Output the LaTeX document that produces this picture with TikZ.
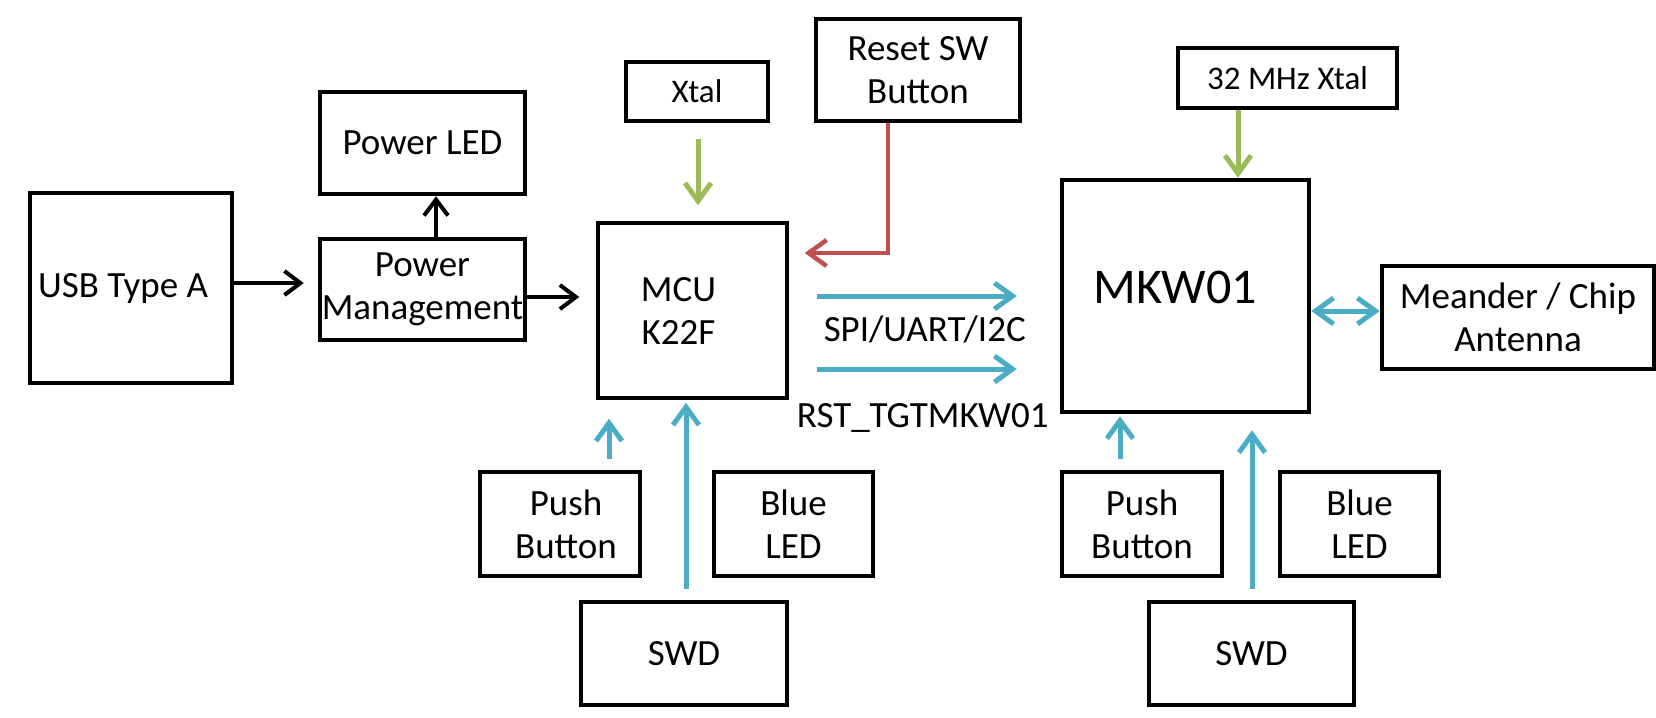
\documentclass[tikz,border=0pt]{standalone}
\usepackage{fontspec}
\setmainfont{Carlito}
\usetikzlibrary{arrows.meta,calc}
\definecolor{cblue}{HTML}{4BACC6}
\definecolor{cgreen}{HTML}{9BBB59}
\definecolor{cred}{HTML}{C0504D}
\newcommand\myfont{\fontsize{18.5}{21.5}\selectfont}
\newcommand\mysmall{\fontsize{16.5}{19}\selectfont}
\newcommand\mybig{\fontsize{25}{29}\selectfont}
\begin{document}
\begin{tikzpicture}[x=0.5pt,y=-0.5pt,
  box/.style={draw, line width=2.25pt, rectangle, inner sep=0pt, align=center, font=\myfont},
  blk/.style={line width=2pt, -{Straight Barb[length=8pt,width=12pt]}},
  blu/.style={draw=cblue, line width=2.5pt, -{Straight Barb[length=9pt,width=13pt]}},
  grn/.style={draw=cgreen, line width=2.5pt, -{Straight Barb[length=9pt,width=13pt]}},
  rd/.style={draw=cred, line width=2.25pt, -{Straight Barb[length=9pt,width=13pt]}},
  lbl/.style={font=\myfont, inner sep=0pt}]
\useasboundingbox (0,0) rectangle (1656,718);

\node[box, minimum width=101pt, minimum height=95pt] (usb) at (131,288) {\hspace*{-8pt}USB Type A};
\node[box, minimum width=102.5pt, minimum height=51pt] (pled) at (422.5,143) {Power LED};
\node[box, minimum width=102.5pt, minimum height=50.5pt] (pm) at (422.5,289.5) {Power\\Management};
\node[box, minimum width=71pt, minimum height=29.5pt, font=\mysmall] (xtal) at (697,91.5) {Xtal};
\node[box, minimum width=102pt, minimum height=51pt] (reset) at (918,70) {Reset SW\\Button};
\node[box, line width=1.75pt, minimum width=94.5pt, minimum height=87.5pt] (mcu) at (692.5,310.5) {\hspace*{-14pt}MCU\\\hspace*{-14pt}K22F};
\node[box, minimum width=123.5pt, minimum height=116pt, font=\mybig] (mkw) at (1185.5,296) {\hspace*{-10pt}\raisebox{-3.5pt}[0pt][0pt]{MKW01}};
\node[box, minimum width=109.5pt, minimum height=30pt, font=\mysmall] (xtal32) at (1287.5,78) {32 MHz Xtal};
\node[box, minimum width=136pt, minimum height=51.5pt] (ant) at (1518,317.5) {Meander / Chip\\Antenna};
\node[box, minimum width=80pt, minimum height=52pt] (pbl) at (560,524) {\hspace*{6pt}Push\\\hspace*{6pt}Button};
\node[box, minimum width=79.5pt, minimum height=52pt] (ledl) at (793.5,524) {Blue\\LED};
\node[box, minimum width=103pt, minimum height=51.5pt] (swdl) at (684,653.5) {SWD};
\node[box, minimum width=80pt, minimum height=52pt] (pbr) at (1142,524) {Push\\Button};
\node[box, minimum width=79.5pt, minimum height=52pt] (ledr) at (1359.5,524) {Blue\\LED};
\node[box, minimum width=102.5pt, minimum height=51.5pt] (swdr) at (1251.5,653.5) {SWD};

% black arrows
\draw[blk] ($(usb.east)+(0,-5)$) -- ($(pm.west)+(-14,-6.5)$);
\draw[blk] ($(pm.north)+(13.5,0)$) -- ($(pled.south)+(13.5,0)$);
\draw[blk] ($(pm.east)+(0,7.5)$) -- ($(mcu.west)+(-17,-13.5)$);

% green arrows
\draw[grn] ($(xtal.south)+(1,16)$) -- ($(mcu.north)+(5.5,-16)$);
\draw[grn] ($(xtal32.south)+(-49.5,0)$) -- ($(mkw.north)+(52.5,0)$);

% red arrow
\draw[rd] ($(reset.south)+(-30,0)$) |- ($(mcu.east)+(16,-57.5)$);

% blue arrows MCU -> MKW01
\draw[blu] ($(mcu.east)+(28,-14.5)$) -- node[lbl, below=8.5pt, xshift=4pt] (spi) {SPI/UART/I2C} ($(mkw.west)+(-43,0)$);
\draw[blu] ($(mcu.east)+(28,58.5)$) -- node[lbl, below=16pt, xshift=3pt] (rst) {RST\_TGTMKW01} ($(mkw.west)+(-43,73)$);

% antenna
\draw[blu, {Straight Barb[length=9pt,width=13pt]}-{Straight Barb[length=9pt,width=13pt]}] ($(mkw.east)+(0,15)$) -- ($(ant.west)+(0,-6.5)$);

% bottom left
\draw[blu] ($(pbl.north)+(49,-11)$) -- ($(mcu.south)+(-83.5,19)$);
\draw[blu] ($(swdl.north)+(2,-11)$) -- ($(mcu.south)+(-6.5,3)$);

% bottom right
\draw[blu] ($(pbr.north)+(-22,-11)$) -- ($(mkw.south)+(-65.5,2)$);
\draw[blu] ($(swdr.north)+(0.5,-11)$) -- ($(mkw.south)+(66.5,16)$);
\end{tikzpicture}
\end{document}
